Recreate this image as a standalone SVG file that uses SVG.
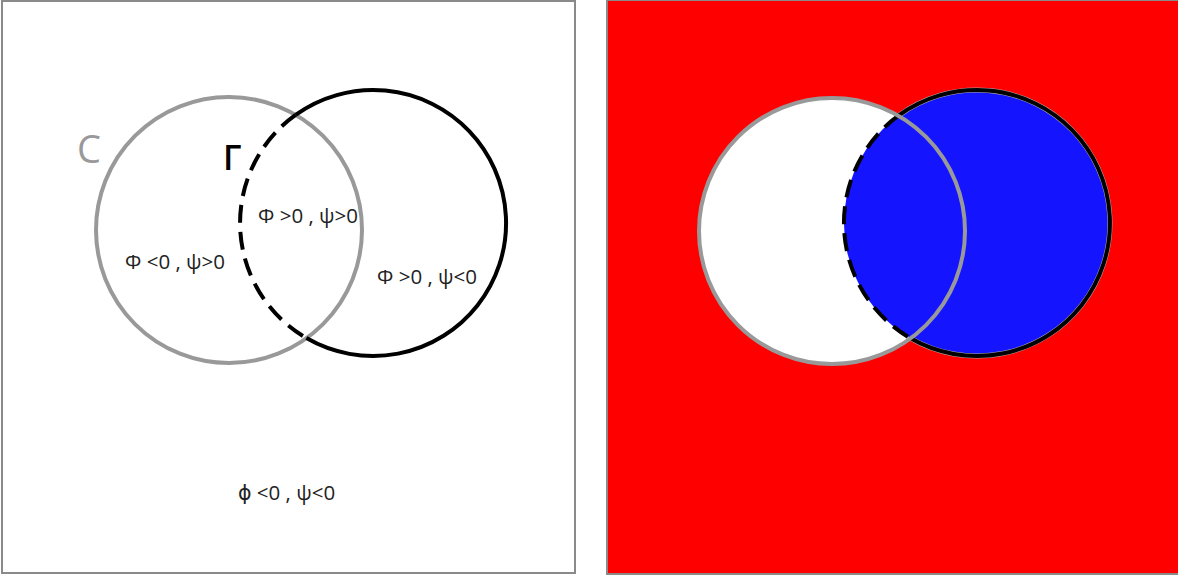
<svg xmlns="http://www.w3.org/2000/svg" width="1178" height="575" viewBox="0 0 1178 575">
<style>
.frame{stroke:#8a8a8a;stroke-width:2}
.gray{fill:none;stroke:#999;stroke-width:4}
.blk{fill:none;stroke:#000;stroke-width:4}
.dash{fill:none;stroke:#000;stroke-width:4;stroke-dasharray:18 9}
.lbl{font-family:"Open Sans","DejaVu Sans",sans-serif;font-size:20.5px;fill:#222}
</style>
<g id="left-panel">
<rect class="frame" x="2" y="1" width="573" height="572" fill="#fff"/>
<g id="circle-C"><circle class="gray" cx="229" cy="230" r="133"/></g>
<g id="circle-Gamma">
<path class="blk" d="M295.6 114.9 A133 133 0 1 1 306.4 338.1"/>
<path class="dash" d="M295.6 114.9 A133 133 0 0 0 306.4 338.1"/>
</g>
<text x="77" y="163" font-family="'Open Sans','DejaVu Sans',sans-serif" font-size="38" fill="#999">C</text>
<text x="223" y="170" font-family="'Open Sans','DejaVu Sans',sans-serif" font-size="34" font-weight="600" fill="#000">Γ</text>
<text class="lbl" x="125" y="269">Φ &lt;0 , ψ&gt;0</text>
<text class="lbl" x="258" y="223">Φ &gt;0 , ψ&gt;0</text>
<text class="lbl" x="377" y="284">Φ &gt;0 , ψ&lt;0</text>
<text class="lbl" x="238" y="500">ϕ &lt;0 , ψ&lt;0</text>
</g>
<g id="right-panel">
<rect class="frame" x="607" y="0" width="572" height="574" fill="#ff0000"/>
<circle cx="832" cy="231" r="133" fill="#fff"/>
<circle cx="977" cy="223" r="133" fill="#1414ff"/>
<path d="M898.4 115.7 A133 133 0 1 1 910.6 338.3" fill="none" stroke="#aaa" stroke-width="5"/>
<path class="blk" d="M898.4 115.7 A133 133 0 1 1 910.6 338.3"/>
<path class="dash" d="M898.4 115.7 A133 133 0 0 0 910.6 338.3"/>
<circle class="gray" cx="832" cy="231" r="133"/>
</g>
</svg>
